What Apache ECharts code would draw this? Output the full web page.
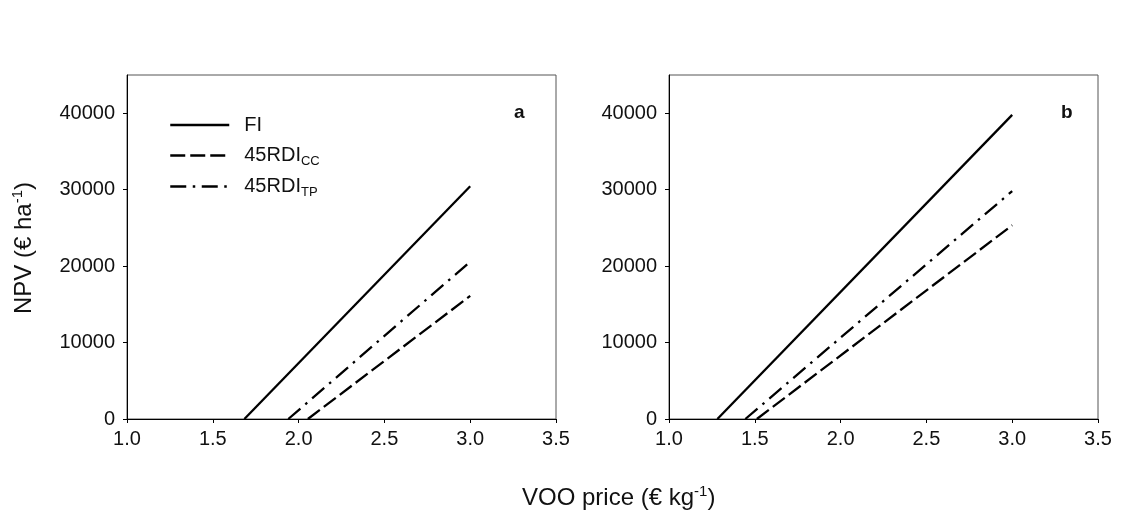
<!DOCTYPE html>
<html>
<head>
<meta charset="utf-8">
<script src="https://cdn.jsdelivr.net/npm/echarts@6/dist/echarts.min.js"></script>
<style>
html,body{margin:0;padding:0;background:#fff;}
#chart{width:1129px;height:518px;}
</style>
</head>
<body>
<div id="chart"></div>
<script>
// Data
const seriesNames = ['FI', '45RDI_CC', '45RDI_TP'];
const legendLabels = ['FI', '45RDI{sub|CC}', '45RDI{sub|TP}'];
const panelA_FI = [[1.684, 0], [3.0, 30450]];
const panelA_CC = [[2.054, 0], [3.0, 16100]];
const panelA_TP = [[1.94, 0], [3.0, 20580]];
const panelB_FI = [[1.282, 0], [3.0, 39780]];
const panelB_CC = [[1.512, 0], [3.0, 25340]];
const panelB_TP = [[1.445, 0], [3.0, 29820]];
const yTicks = [0, 10000, 20000, 30000, 40000];
const xTicks = [1.0, 1.5, 2.0, 2.5, 3.0, 3.5];
const panelLabels = ['a', 'b'];

const font = 'Liberation Sans, Arial, sans-serif';
const lineStyles = [
  {type: 'solid', width: 2.3, color: '#000'},
  {type: [15, 5], width: 2.3, color: '#000'},
  {type: [16, 6.5, 2.5, 6.5], width: 2.3, color: '#000'}
];

function xAxis(i) {
  return {
    type: 'value', gridIndex: i, min: 1.0, max: 3.5, interval: 0.5,
    axisLine: {show: true, onZero: false, lineStyle: {color: '#000', width: 1}},
    axisTick: {show: true, inside: false, length: 4, lineStyle: {color: '#000'}},
    axisLabel: {color: '#111', fontSize: 20, fontFamily: font, margin: 10,
      formatter: v => Number(v).toFixed(1)},
    splitLine: {show: false}
  };
}
function yAxis(i) {
  return {
    type: 'value', gridIndex: i, min: 0, max: 45000,
    axisLine: {show: true, onZero: false, lineStyle: {color: '#000', width: 1}},
    axisTick: {show: true, inside: false, length: 4, customValues: yTicks, lineStyle: {color: '#000'}},
    axisLabel: {color: '#111', fontSize: 20, fontFamily: font, margin: 12,
      customValues: yTicks, formatter: v => String(v)},
    splitLine: {show: false}
  };
}
function mk(name, data, idx, gi) {
  return {
    name: name, type: 'line', xAxisIndex: gi, yAxisIndex: gi, data: data,
    symbol: 'none', showSymbol: false, lineStyle: lineStyles[idx], itemStyle: {color: '#000'},
    silent: true, animation: false, z: 3
  };
}

const chart = echarts.init(document.getElementById('chart'), null, {renderer: 'canvas'});
chart.setOption({
  backgroundColor: '#fff',
  animation: false,
  grid: [
    {left: 127, top: 75, width: 429, height: 344, show: true, borderColor: '#555', borderWidth: 1, backgroundColor: 'transparent'},
    {left: 669, top: 75, width: 429, height: 344, show: true, borderColor: '#555', borderWidth: 1, backgroundColor: 'transparent'}
  ],
  xAxis: [xAxis(0), xAxis(1)],
  yAxis: [yAxis(0), yAxis(1)],
  legend: {
    show: true, orient: 'vertical', left: 169, top: 113, padding: 0,
    itemWidth: 59, itemHeight: 24, itemGap: 6,
    data: seriesNames,
    formatter: n => legendLabels[seriesNames.indexOf(n)],
    itemStyle: {color: 'transparent', borderColor: 'transparent', borderWidth: 0, opacity: 0},
    lineStyle: {width: 2.5},
    textStyle: {color: '#111', fontSize: 20, fontFamily: font, padding: [0, 0, 0, 10], lineHeight: 24,
      rich: {sub: {fontSize: 13, fontFamily: font, color: '#111', lineHeight: 24, padding: [12, 0, 0, 0]}}},
    selectedMode: false, inactiveColor: '#000'
  },
  series: [
    mk(seriesNames[0], panelA_FI, 0, 0),
    mk(seriesNames[1], panelA_CC, 1, 0),
    mk(seriesNames[2], panelA_TP, 2, 0),
    mk(seriesNames[0], panelB_FI, 0, 1),
    mk(seriesNames[1], panelB_CC, 1, 1),
    mk(seriesNames[2], panelB_TP, 2, 1)
  ],
  graphic: [
    {type: 'text', left: 514, top: 103, style: {text: panelLabels[0], font: 'bold 19px ' + font, fill: '#111'}},
    {type: 'text', left: 1061, top: 103, style: {text: panelLabels[1], font: 'bold 19px ' + font, fill: '#111'}},
    {type: 'text', x: 522, y: 498, style: {
      text: 'VOO price (€ kg{sup|-1})', font: '24px ' + font, fill: '#111', verticalAlign: 'middle',
      rich: {sup: {fontSize: 15, fontFamily: font, fill: '#111', padding: [0, 0, 12, 0]}}
    }},
    {type: 'text', x: 24, y: 314, rotation: Math.PI / 2, style: {
      text: 'NPV (€ ha{sup|-1})', font: '24px ' + font, fill: '#111', verticalAlign: 'middle',
      rich: {sup: {fontSize: 15, fontFamily: font, fill: '#111', padding: [0, 0, 12, 0]}}
    }}
  ]
});
</script>
</body>
</html>
